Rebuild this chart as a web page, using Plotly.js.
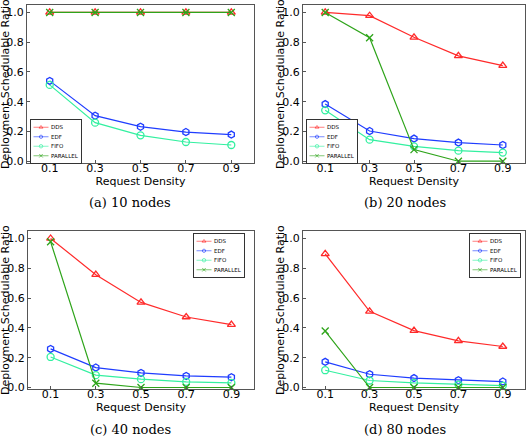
<!DOCTYPE html>
<html><head><meta charset="utf-8">
<script src="https://cdn.plot.ly/plotly-3.0.1.min.js"></script>
<style>html,body{margin:0;padding:0;background:#fff}#chart{width:529px;height:437px}</style>
</head><body><div id="chart"></div>
<script>
const density = [0.1, 0.3, 0.5, 0.7, 0.9];
const densityLabels = ['0.1', '0.3', '0.5', '0.7', '0.9'];
const ratioTicks = [0, 0.2, 0.4, 0.6, 0.8, 1.0];
const ratioLabels = ['0.0', '0.2', '0.4', '0.6', '0.8', '1.0'];
const seriesNames = ['DDS', 'EDF', 'FIFO', 'PARALLEL'];
const panelCaptions = ['(a) 10 nodes', '(b) 20 nodes', '(c) 40 nodes', '(d) 80 nodes'];

// (a) 10 nodes
const dds10 = [1.0, 1.0, 1.0, 1.0, 1.0];
const edf10 = [0.54, 0.306, 0.232, 0.196, 0.179];
const fifo10 = [0.513, 0.259, 0.174, 0.129, 0.109];
const par10 = [1.0, 1.0, 1.0, 1.0, 1.0];
// (b) 20 nodes
const dds20 = [1.0, 0.978, 0.833, 0.708, 0.643];
const edf20 = [0.384, 0.203, 0.152, 0.125, 0.109];
const fifo20 = [0.342, 0.145, 0.1, 0.071, 0.058];
const par20 = [1.0, 0.83, 0.078, 0.0, 0.0];
// (c) 40 nodes
const dds40 = [1.0, 0.757, 0.571, 0.473, 0.422];
const edf40 = [0.259, 0.134, 0.098, 0.078, 0.069];
const fifo40 = [0.205, 0.083, 0.056, 0.038, 0.031];
const par40 = [0.978, 0.029, 0.0, 0.0, 0.0];
// (d) 80 nodes
const dds80 = [0.897, 0.511, 0.382, 0.313, 0.275];
const edf80 = [0.172, 0.089, 0.063, 0.049, 0.04];
const fifo80 = [0.116, 0.047, 0.031, 0.02, 0.013];
const par80 = [0.379, 0.0, 0.0, 0.0, 0.0];

const panels = [
  [dds10, edf10, fifo10, par10],
  [dds20, edf20, fifo20, par20],
  [dds40, edf40, fifo40, par40],
  [dds80, edf80, fifo80, par80]
];

const styles = [
  {color: '#ff2a2a', symbol: 'triangle-up-open', size: 7},
  {color: '#1f3dff', symbol: 'hexagon-open', size: 7},
  {color: '#33f0a0', symbol: 'circle-open', size: 7},
  {color: '#2ea41a', symbol: 'x-thin-open', size: 7}
];

const W = 529, H = 437;
const boxes = [
  {l: 27, r: 254, t: 5, b: 163},
  {l: 303, r: 525, t: 5, b: 163},
  {l: 28, r: 254, t: 231, b: 389},
  {l: 303, r: 525, t: 231, b: 389}
];
const legendPos = [
  {x: 30, y: 119},
  {x: 306, y: 119},
  {x: 193, y: 233},
  {x: 469, y: 233}
];
const yTitleX = [5, 280, 5, 280];
const captionX = [129.5, 405, 130, 405];
const captionY = [202, 202, 429, 429];
const LEG_SCALE = 0.5;

const traces = [];
const layout = {
  width: W, height: H,
  margin: {l: 0, r: 0, t: 0, b: 0, autoexpand: false},
  paper_bgcolor: '#fff', plot_bgcolor: '#fff',
  font: {family: 'DejaVu Sans', size: 11, color: '#000'},
  showlegend: true,
  annotations: []
};

panels.forEach((p, i) => {
  const n = i + 1;
  const xa = n === 1 ? 'x' : 'x' + n;
  const ya = n === 1 ? 'y' : 'y' + n;
  const lg = n === 1 ? 'legend' : 'legend' + n;
  p.forEach((vals, k) => {
    const s = styles[k];
    traces.push({
      x: density, y: vals, xaxis: xa, yaxis: ya, legend: lg,
      name: seriesNames[k], type: 'scatter', mode: 'lines+markers',
      line: {color: s.color, width: 1.2},
      marker: {symbol: s.symbol, size: s.size, color: s.color, line: {color: s.color, width: 1.3}},
      cliponaxis: false
    });
  });
  const b = boxes[i];
  const axCommon = {
    showgrid: false, zeroline: false, showline: true, mirror: true,
    linecolor: '#555', linewidth: 1, ticks: 'inside', ticklen: 3, tickcolor: '#555',
    tickfont: {family: 'DejaVu Sans', size: 11, color: '#000'}
  };
  layout['xaxis' + (n === 1 ? '' : n)] = Object.assign({}, axCommon, {
    domain: [b.l / W, b.r / W], anchor: ya, range: [0, 1],
    tickvals: density, ticktext: densityLabels, ticklabelstandoff: -5,
    title: {text: 'Request Density', font: {family: 'DejaVu Sans', size: 11}, standoff: 0}
  });
  layout['yaxis' + (n === 1 ? '' : n)] = Object.assign({}, axCommon, {
    domain: [1 - b.b / H, 1 - b.t / H], anchor: xa,
    range: i < 2 ? [-0.012, 1.05] : [-0.01, 1.05],
    tickvals: ratioTicks, ticktext: ratioLabels
  });
  const lp = legendPos[i];
  layout[lg] = {
    x: lp.x / W, y: 1 - lp.y / H, xanchor: 'left', yanchor: 'top',
    bgcolor: '#fff', bordercolor: '#333', borderwidth: 2,
    font: {family: 'DejaVu Sans', size: 11, color: '#000'},
    itemwidth: 30, tracegroupgap: 0
  };
  layout.annotations.push({
    text: 'Deployment Schedulable Ratio', xref: 'paper', yref: 'paper',
    x: yTitleX[i] / W, y: 1 - ((b.t + b.b) / 2) / H, textangle: -90,
    xanchor: 'center', yanchor: 'middle', showarrow: false,
    font: {family: 'DejaVu Sans', size: 11, color: '#000'}
  });
  layout.annotations.push({
    text: panelCaptions[i], xref: 'paper', yref: 'paper',
    x: captionX[i] / W, y: 1 - captionY[i] / H,
    xanchor: 'center', yanchor: 'middle', showarrow: false,
    font: {family: 'DejaVu Serif', size: 13, color: '#000'}
  });
});

Plotly.newPlot('chart', traces, layout, {displayModeBar: false, staticPlot: true}).then(gd => {
  gd.querySelectorAll('.infolayer > g').forEach(g => {
    const cls = g.getAttribute('class') || '';
    if (/^legend\d*$/.test(cls)) {
      const tr = g.getAttribute('transform') || '';
      g.setAttribute('transform', tr + ' scale(' + LEG_SCALE + ')');
    }
  });
});
</script></body></html>
